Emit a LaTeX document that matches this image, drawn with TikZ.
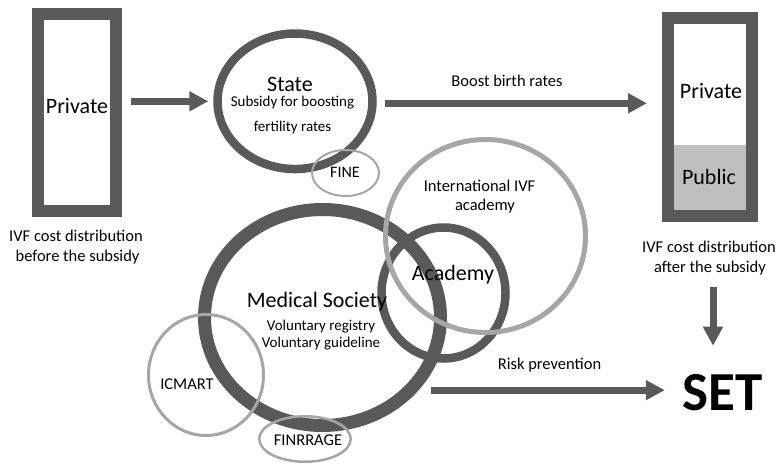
\documentclass[tikz,border=0pt]{standalone}
\usepackage{fontspec}
\setmainfont{Carlito}
\usetikzlibrary{arrows.meta,shapes.geometric,calc}
\definecolor{dk}{HTML}{595959}
\definecolor{lt}{HTML}{A6A6A6}
\definecolor{pub}{HTML}{BFBFBF}
\tikzset{
  ring/.style={ellipse, draw=dk, inner sep=0pt},
  lring/.style={ellipse, draw=lt, inner sep=0pt},
  box/.style={rectangle, draw=dk, line width=12pt, inner sep=0pt},
  big/.style={font=\fontsize{22}{26}\selectfont, anchor=base, inner sep=0pt},
  mid/.style={font=\fontsize{16.5}{20}\selectfont, anchor=base, inner sep=0pt},
  sml/.style={font=\fontsize{15}{18}\selectfont, anchor=base, inner sep=0pt},
  bigarrow/.style={draw=dk, line width=7pt, -{Triangle[length=19pt,width=19pt]}},
}
\begin{document}
\begin{tikzpicture}[x=1pt,y=-1pt]
\useasboundingbox (0,0) rectangle (781,465);
% left box
\node[box, minimum width=78pt, minimum height=197pt] (lrect) at (77,112.5) {};
\node[big] (lpriv) at (77,114) {Private};
\node[mid] (lt1) at (76,241) {IVF cost distribution};
\node[mid] (lt2) at (77.5,261.5) {before the subsidy};
% right box
\fill[pub] (674,145) rectangle (746,210);
\node[box, minimum width=84pt, minimum height=198pt] (rrect) at (710,117) {};
\node[big] (rpriv) at (711,99) {Private};
\node[big] (rpub) at (709,185) {Public};
\node[mid] (rt1) at (709,252) {IVF cost distribution};
\node[mid] (rt2) at (710,272.5) {after the subsidy};
% state
\node[ring, line width=8.5pt, minimum width=155pt, minimum height=135.5pt] (state) at (295,101.3) {};
\node[lring, line width=2pt, minimum width=67pt, minimum height=46pt] (fine) at (345.5,173) {};
% academy and medical society
\node[ring, line width=8.5pt, minimum width=124pt, minimum height=131pt] (acad) at (443.5,293) {};
\node[ring, line width=13pt, minimum width=236pt, minimum height=216pt] (medsoc) at (322.5,317.5) {};
\node[lring, line width=5pt, minimum width=200pt, minimum height=193pt] (intl) at (485.5,236) {};
\node[lring, line width=3pt, minimum width=115pt, minimum height=121pt] (icmart) at (206,375) {};
\node[lring, line width=2.5pt, minimum width=91.5pt, minimum height=45.5pt] (finr) at (305,439) {};
% texts
\node[big] (tstate) at (290,92) {State};
\node[sml] (ts1) at (292.5,107) {Subsidy for boosting};
\node[sml] (ts2) at (292.5,132) {fertility rates};
\node[mid, font=\fontsize{16}{19}\selectfont] (tfine) at (345,178) {FINE};
\node[mid] (tboost) at (507,87) {Boost birth rates};
\node[mid] (tint1) at (479.5,191) {International IVF};
\node[mid] (tint2) at (485,210.5) {academy};
\node[big] (tacad) at (453,280) {Academy};
\node[big] (tmed) at (317,307) {Medical Society};
\node[sml] (tv1) at (321,330) {Voluntary registry};
\node[sml] (tv2) at (321,347) {Voluntary guideline};
\node[mid] (tic) at (187,389) {ICMART};
\node[mid] (tfin) at (308,445) {FINRRAGE};
\node[mid] (trisk) at (549.5,369) {Risk prevention};
\node[font=\fontsize{55}{60}\selectfont\bfseries, anchor=base, inner sep=0pt] (set) at (723,410) {SET};
% arrows
\draw[bigarrow, shorten <=9pt, shorten >=5pt] (lrect.east |- state.west) -- (state.west);
\draw[bigarrow, shorten <=8pt, shorten >=15pt] ($(state.east)+(0,2)$) -- ($(state.east -| rrect.west)+(0,2)$);
\draw[bigarrow, shorten <=12pt, shorten >=28pt] ($(rt2.south)+(3,0)$) -- ($(rt2.south |- set.north)+(3,0)$);
\draw[bigarrow, shorten >=18pt] ($(medsoc.east |- set.west)+(-16,-2)$) -- ($(set.west)+(0,-2)$);
\end{tikzpicture}
\end{document}
